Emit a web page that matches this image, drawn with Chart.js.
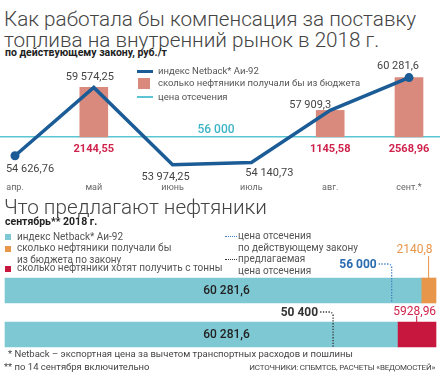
<!DOCTYPE html>
<html><head><meta charset="utf-8">
<script src="https://cdn.jsdelivr.net/npm/chart.js@4"></script>
<style>
body{margin:0;width:447px;height:380px;overflow:hidden;background:#fff;font-family:Roboto,"Noto Sans",sans-serif;color:#333;position:relative}
.t{position:absolute;white-space:nowrap}
.title{font-size:20.7px;line-height:21px;font-weight:300;color:#444;left:4px}
.sub{font-size:10.5px;line-height:12px;font-weight:700;color:#222;left:5px}
.lg{font-size:9.5px;line-height:12px;color:#555}
.lg2{font-size:10px;line-height:12px;color:#555}
.sw{position:absolute}
canvas{position:absolute;left:0}
.fn{font-size:9.5px;line-height:12px;color:#444}
</style></head>
<body>
<div class="t title" style="top:9px">Как работала бы компенсация за поставку<br>топлива на внутренний рынок в 2018 г.</div>
<div class="t sub" style="top:47px">по действующему закону, руб./т</div>

<canvas id="top" width="447" height="146" style="top:55px"></canvas>

<div class="sw" style="left:137px;top:69.5px;width:16px;height:3px;background:#1b5c97"></div>
<div class="t lg" style="left:158px;top:64.5px">индекс Netback* Аи-92</div>
<div class="sw" style="left:138px;top:78px;width:12px;height:11px;background:#d98a7c"></div>
<div class="t lg" style="left:158px;top:77px">сколько нефтяники получали бы из бюджета</div>
<div class="sw" style="left:137px;top:96px;width:16px;height:1.5px;background:#5cc5d3"></div>
<div class="t lg" style="left:158px;top:90.5px">цена отсечения</div>

<div class="t title" style="top:197px">Что предлагают нефтяники</div>
<div class="t sub" style="top:216px">сентябрь** 2018 г.</div>

<div class="sw" style="left:5px;top:234px;width:6px;height:6px;background:#7ec8d3"></div>
<div class="t lg2" style="left:17px;top:231px">индекс Netback* Аи-92</div>
<div class="sw" style="left:5px;top:246px;width:6px;height:6px;background:#e8964a"></div>
<div class="t lg2" style="left:17px;top:242px">сколько нефтяники получали бы<br>из бюджета по закону</div>
<div class="sw" style="left:5px;top:266px;width:6px;height:6px;background:#c8173e"></div>
<div class="t lg2" style="left:17px;top:262px">сколько нефтяники хотят получить с тонны</div>

<div class="sw" style="left:225px;top:236px;width:12px;border-top:1.5px dotted #3a7fc4"></div>
<div class="t lg2" style="left:238px;top:230px">цена отсечения<br>по действующему закону</div>
<div class="sw" style="left:225px;top:259px;width:12px;border-top:1.5px dotted #333"></div>
<div class="t lg2" style="left:238px;top:253px">предлагаемая<br>цена отсечения</div>

<canvas id="bottom" width="447" height="115" style="top:240px"></canvas>

<div class="t fn" style="left:8px;top:348px">* Netback – экспортная цена за вычетом транспортных расходов и пошлины</div>
<div class="t fn" style="left:4px;top:361px">** по 14 сентября включительно</div>
<div class="t fn" style="right:12px;top:362px;font-size:8px;letter-spacing:-0.2px">ИСТОЧНИКИ: СПБМТСБ, РАСЧЕТЫ «ВЕДОМОСТЕЙ»</div>

<script>
// ---- data: top chart ----
const months = ['апр.', 'май', 'июнь', 'июль', 'авг.', 'сент.*'];
const netback = [54626.76, 59574.25, 53974.25, 54140.73, 57909.3, 60281.6];
const compensation = [null, 2144.55, null, null, 1145.58, 2568.96];
const cutoff = 56000;

// ---- data: bottom chart ----
const barCategories = ['по закону', 'предложение'];
const sepNetback = 60281.6;
const lawCutoff = 56000;
const proposedCutoff = 50400;
const lawCompensation = 2140.8;
const wantedCompensation = 5928.96;

const FONT = 'Roboto, "Noto Sans", sans-serif';

function fmt(v) {
  const parts = String(v).split('.');
  let ip = parts[0];
  if (ip.length > 4) ip = ip.slice(0, ip.length - 3) + ' ' + ip.slice(ip.length - 3);
  return parts.length > 1 ? ip + ',' + parts[1] : ip;
}

// label placement relative to each point (layout only)
const lblOffsets = [[15, 13], [-4, -10], [-7, 12], [18, 11], [-20, -5], [-11, -11]];

const topPlugin = {
  id: 'topDeco',
  beforeDatasetsDraw(chart) {
    const {ctx, scales: {y}} = chart;
    const yc = y.getPixelForValue(cutoff);
    ctx.save();
    ctx.strokeStyle = '#5cc5d3';
    ctx.lineWidth = 1.5;
    ctx.beginPath();
    ctx.moveTo(0, yc);
    ctx.lineTo(440, yc);
    ctx.stroke();
    ctx.restore();
  },
  afterDatasetsDraw(chart) {
    const {ctx, scales: {x, y}, chartArea} = chart;
    const yc = y.getPixelForValue(cutoff);
    ctx.save();
    ctx.textAlign = 'center';
    ctx.textBaseline = 'middle';
    ctx.font = '500 12px ' + FONT;
    ctx.fillStyle = '#3db4c6';
    ctx.fillText(fmt(cutoff), (chartArea.left + chartArea.right) / 2 + 4, yc - 7);
    ctx.font = '11px ' + FONT;
    ctx.fillStyle = '#444';
    netback.forEach((v, i) => {
      const px = x.getPixelForValue(i), py = y.getPixelForValue(v);
      ctx.fillText(fmt(v), px + lblOffsets[i][0], py + lblOffsets[i][1]);
    });
    ctx.font = 'bold 11px ' + FONT;
    ctx.fillStyle = '#d0234c';
    const meta = chart.getDatasetMeta(1);
    compensation.forEach((v, i) => {
      if (v == null) return;
      ctx.fillText(fmt(v), meta.data[i].x, yc + 12);
    });
    ctx.restore();
  }
};

new Chart(document.getElementById('top'), {
  type: 'bar',
  data: {
    labels: months,
    datasets: [
      {
        type: 'line',
        label: 'индекс Netback* Аи-92',
        data: netback,
        borderColor: '#1b5c97',
        backgroundColor: '#1b5c97',
        borderWidth: 3.5,
        tension: 0,
        pointRadius: netback.map((v, i) => (i === 0 || i === netback.length - 1) ? 4.5 : 0),
        pointBorderWidth: 0,
        order: 0,
        clip: false
      },
      {
        type: 'bar',
        label: 'сколько нефтяники получали бы из бюджета',
        data: netback.map((v, i) => compensation[i] != null ? [cutoff, v] : null),
        backgroundColor: '#d98a7c',
        barThickness: 28,
        order: 1,
        clip: false
      }
    ]
  },
  options: {
    responsive: false,
    animation: false,
    layout: {padding: {left: 15, right: 38, top: 7, bottom: 2}},
    scales: {
      x: {
        offset: false,
        grid: {display: false, drawTicks: false},
        border: {display: false},
        ticks: {padding: 6, color: '#666', font: {size: 9, family: FONT}, maxRotation: 0, autoSkip: false}
      },
      y: {display: false, min: 53150, max: 61410}
    },
    plugins: {legend: {display: false}, tooltip: {enabled: false}}
  },
  plugins: [topPlugin]
});

const bottomPlugin = {
  id: 'bottomDeco',
  afterDatasetsDraw(chart) {
    const {ctx, chartArea} = chart;
    const xa = chart.scales.xa, xb = chart.scales.xb;
    const t1 = chart.getDatasetMeta(0).data[0], o1 = chart.getDatasetMeta(1).data[0];
    const t2 = chart.getDatasetMeta(2).data[1], r2 = chart.getDatasetMeta(3).data[1];
    const h = t1.height;
    const top1 = t1.y - h / 2, bot1 = t1.y + h / 2;
    const top2 = t2.y - h / 2, bot2 = t2.y + h / 2;
    const cx = (chartArea.left + chartArea.right) / 2 + 6;
    ctx.save();
    ctx.textBaseline = 'middle';
    ctx.textAlign = 'center';
    ctx.font = '500 12px ' + FONT;
    ctx.fillStyle = '#222';
    ctx.fillText(fmt(sepNetback), cx, t1.y);
    ctx.fillText(fmt(sepNetback), cx, t2.y);

    // orange label
    const ox = (o1.x + o1.base) / 2;
    ctx.strokeStyle = '#e8964a';
    ctx.lineWidth = 1;
    ctx.beginPath(); ctx.moveTo(ox, top1 - 22); ctx.lineTo(ox, top1); ctx.stroke();
    ctx.textAlign = 'right';
    ctx.font = '12px ' + FONT;
    ctx.fillStyle = '#e8964a';
    ctx.fillText(fmt(lawCompensation), ox + 4, top1 - 28);

    // red label
    const rx = (r2.x + r2.base) / 2;
    ctx.strokeStyle = '#c8173e';
    ctx.beginPath(); ctx.moveTo(rx, top2 - 6); ctx.lineTo(rx, top2); ctx.stroke();
    ctx.textAlign = 'center';
    ctx.fillStyle = '#d0234c';
    ctx.fillText(fmt(wantedCompensation), rx - 2, top2 - 10);

    function marker(mx, ly, yEnd, txtColor, lineColor, value) {
      ctx.save();
      ctx.strokeStyle = lineColor;
      ctx.lineWidth = 1.3;
      ctx.setLineDash([1.3, 1.5]);
      ctx.beginPath();
      ctx.moveTo(mx - 13, ly);
      ctx.lineTo(mx - 4, ly);
      ctx.quadraticCurveTo(mx, ly, mx, ly + 4);
      ctx.lineTo(mx, yEnd);
      ctx.stroke();
      ctx.restore();
      ctx.textAlign = 'right';
      ctx.font = 'bold 12px ' + FONT;
      ctx.fillStyle = txtColor;
      ctx.fillText(fmt(value), mx - 15, ly + 1);
    }
    marker(xa.getPixelForValue(lawCutoff), top1 - 14, bot1, '#2a6cb0', '#3a7fc4', lawCutoff);
    marker(xb.getPixelForValue(proposedCutoff), top2 - 10, bot2, '#333', '#333', proposedCutoff);
    ctx.restore();
  }
};

new Chart(document.getElementById('bottom'), {
  type: 'bar',
  data: {
    labels: barCategories,
    datasets: [
      {label: 'индекс Netback* Аи-92', data: [sepNetback, null], xAxisID: 'xa', backgroundColor: '#7ec8d3', stack: 's'},
      {label: 'сколько нефтяники получали бы из бюджета по закону', data: [lawCompensation, null], xAxisID: 'xa', backgroundColor: '#e8964a', stack: 's'},
      {label: 'индекс Netback* Аи-92', data: [null, sepNetback], xAxisID: 'xb', backgroundColor: '#7ec8d3', stack: 's'},
      {label: 'сколько нефтяники хотят получить с тонны', data: [null, wantedCompensation], xAxisID: 'xb', backgroundColor: '#c8173e', stack: 's'}
    ]
  },
  options: {
    indexAxis: 'y',
    responsive: false,
    animation: false,
    layout: {padding: {left: 5, right: 11, top: 50.5, bottom: 20.5}},
    datasets: {bar: {barThickness: 25, skipNull: true, clip: false}},
    scales: {
      y: {display: false, stacked: true, offset: false},
      xa: {type: 'linear', axis: 'x', position: 'bottom', display: false, stacked: true, min: 0, max: sepNetback + lawCompensation},
      xb: {type: 'linear', axis: 'x', position: 'bottom', display: false, stacked: true, min: 0, max: sepNetback + wantedCompensation}
    },
    plugins: {legend: {display: false}, tooltip: {enabled: false}}
  },
  plugins: [bottomPlugin]
});
</script>
</body></html>
